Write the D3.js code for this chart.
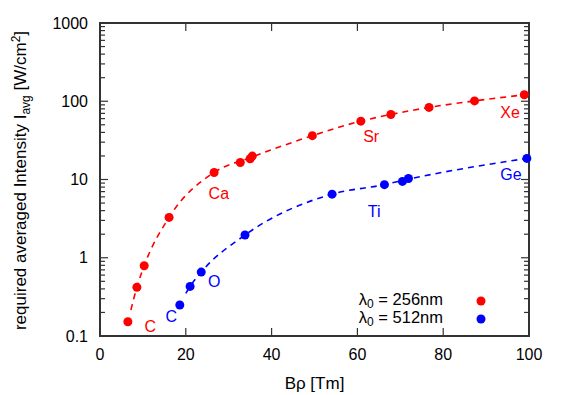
<!DOCTYPE html>
<html>
<head>
<meta charset="utf-8">
<script src="https://cdn.jsdelivr.net/npm/d3@7"></script>
<style>
  body { margin: 0; background: #fff; }
  svg text { font-family: "Liberation Sans", Arial, sans-serif; }
</style>
</head>
<body>
<div id="chart"></div>
<script>
// Data (Bρ in Tm, I_avg in W/cm^2)
const redBrho = [6.5, 8.6, 10.3, 16.1, 26.6, 32.7, 35.0, 35.5, 49.5, 60.8, 67.8, 76.7, 87.3, 98.9];
const redI    = [0.152, 0.42, 0.79, 3.28, 12.3, 16.5, 18.4, 19.9, 36.3, 55.7, 67.8, 83.4, 101, 121];
const blueBrho = [18.6, 21.0, 23.6, 33.8, 54.1, 66.3, 70.5, 71.9, 99.5];
const blueI    = [0.249, 0.43, 0.656, 1.95, 6.5, 8.6, 9.46, 10.3, 18.6];

// dashed fit curves (knots)
const redFitBrho = [7.2, 8.6, 10.3, 16.1, 26.6, 35.3, 49.5, 60.8, 67.8, 76.7, 87.3, 98.9];
const redFitI    = [0.215, 0.42, 0.79, 3.28, 12.3, 19.2, 36.3, 55.7, 67.8, 83.4, 101, 121];
const blueFitBrho = [20.0, 21.0, 23.6, 33.8, 54.1, 66.3, 71.2, 99.5];
const blueFitI    = [0.35, 0.43, 0.656, 1.95, 6.5, 8.6, 9.9, 18.6];

// element labels
const redLabels = ['C', 'Ca', 'Sr', 'Xe'];
const redLabelBrho = [11.7, 27.7, 63.2, 95.6];
const redLabelI = [0.131, 6.7, 35.8, 71.9];
const blueLabels = ['C', 'O', 'Ti', 'Ge'];
const blueLabelBrho = [16.6, 26.6, 63.9, 95.8];
const blueLabelI = [0.18, 0.494, 3.95, 11.7];

const xTicks = [0, 20, 40, 60, 80, 100];
const yTicks = [0.1, 1, 10, 100, 1000];
const legendNames = ['256nm', '512nm'];

const W = 562, H = 395;
const margin = {top: 23, right: 33, bottom: 59, left: 100};
const width = W - margin.left - margin.right;
const height = H - margin.top - margin.bottom;
const red = '#ff0000', blue = '#0000ff', axisCol = '#333';

const svg = d3.select('#chart').append('svg')
    .attr('width', W).attr('height', H);
const g = svg.append('g')
    .attr('transform', `translate(${margin.left},${margin.top})`);

const x = d3.scaleLinear().domain([0, 100]).range([0, width]);
const y = d3.scaleLog().domain([0.1, 1000]).range([height, 0]);

// minor log ticks
const minor = [];
yTicks.slice(0, -1).forEach(d => { for (let k = 2; k <= 9; k++) minor.push(d * k); });

// ticks (inward, mirrored)
const tk = g.append('g').attr('stroke', axisCol).attr('stroke-width', 1.2);
xTicks.slice(1, -1).forEach(v => {
    tk.append('line').attr('x1', x(v)).attr('x2', x(v)).attr('y1', height).attr('y2', height - 8);
    tk.append('line').attr('x1', x(v)).attr('x2', x(v)).attr('y1', 0).attr('y2', 8);
});
yTicks.slice(1, -1).forEach(v => {
    tk.append('line').attr('x1', 0).attr('x2', 8).attr('y1', y(v)).attr('y2', y(v));
    tk.append('line').attr('x1', width).attr('x2', width - 8).attr('y1', y(v)).attr('y2', y(v));
});
minor.forEach(v => {
    tk.append('line').attr('x1', 0).attr('x2', 5).attr('y1', y(v)).attr('y2', y(v));
    tk.append('line').attr('x1', width).attr('x2', width - 5).attr('y1', y(v)).attr('y2', y(v));
});

// frame
g.append('rect').attr('width', width).attr('height', height)
    .attr('fill', 'none').attr('stroke', axisCol).attr('stroke-width', 2);

// tick labels
g.selectAll('.xl').data(xTicks).enter().append('text')
    .attr('x', d => x(d)).attr('y', height + 24)
    .attr('text-anchor', 'middle').attr('font-size', 16).text(d => d);
g.selectAll('.yl').data(yTicks).enter().append('text')
    .attr('x', -12).attr('y', d => y(d)).attr('dy', '0.35em')
    .attr('text-anchor', 'end').attr('font-size', 16).text(d => d);

// axis titles
g.append('text').attr('x', width / 2).attr('y', height + 53)
    .attr('text-anchor', 'middle').attr('font-size', 17).text('Bρ [Tm]');
const yt = svg.append('text')
    .attr('transform', `translate(26,${margin.top + height / 2 + 1}) rotate(-90)`)
    .attr('text-anchor', 'middle').attr('font-size', 17);
yt.append('tspan').text('required averaged Intensity I');
yt.append('tspan').attr('font-size', 12).attr('dy', 4).text('avg');
yt.append('tspan').attr('dy', -4).text(' [W/cm');
yt.append('tspan').attr('font-size', 12).attr('dy', -6).text('2');
yt.append('tspan').attr('dy', 6).text(']');

// fit lines
const line = d3.line().x(d => x(d[0])).y(d => y(d[1])).curve(d3.curveMonotoneX);
[[redFitBrho, redFitI, red], [blueFitBrho, blueFitI, blue]].forEach(([bx, iy, c]) => {
    g.append('path').datum(bx.map((v, i) => [v, iy[i]]))
        .attr('d', line).attr('fill', 'none').attr('stroke', c)
        .attr('stroke-width', 1.6).attr('stroke-dasharray', '6,5');
});

// points
[[redBrho, redI, red], [blueBrho, blueI, blue]].forEach(([bx, iy, c]) => {
    g.selectAll(null).data(bx.map((v, i) => [v, iy[i]])).enter().append('circle')
        .attr('cx', d => x(d[0])).attr('cy', d => y(d[1])).attr('r', 4.5).attr('fill', c);
});

// element labels
[[redLabels, redLabelBrho, redLabelI, red], [blueLabels, blueLabelBrho, blueLabelI, blue]].forEach(([t, bx, iy, c]) => {
    g.selectAll(null).data(t).enter().append('text')
        .attr('x', (d, i) => x(bx[i])).attr('y', (d, i) => y(iy[i])).attr('dy', '0.35em')
        .attr('text-anchor', 'middle').attr('font-size', 16).attr('fill', c).text(d => d);
});

// legend
const lg = svg.append('g');
[red, blue].forEach((c, i) => {
    const ly = 305 + i * 18;
    const t = lg.append('text').attr('x', 443).attr('y', ly)
        .attr('text-anchor', 'end').attr('font-size', 16.5);
    t.append('tspan').text('λ');
    t.append('tspan').attr('font-size', 12).attr('dy', 3).text('0');
    t.append('tspan').attr('dy', -3).text(' = ' + legendNames[i]);
    lg.append('circle').attr('cx', 481).attr('cy', ly - 4).attr('r', 4.5).attr('fill', c);
});
</script>
</body>
</html>
